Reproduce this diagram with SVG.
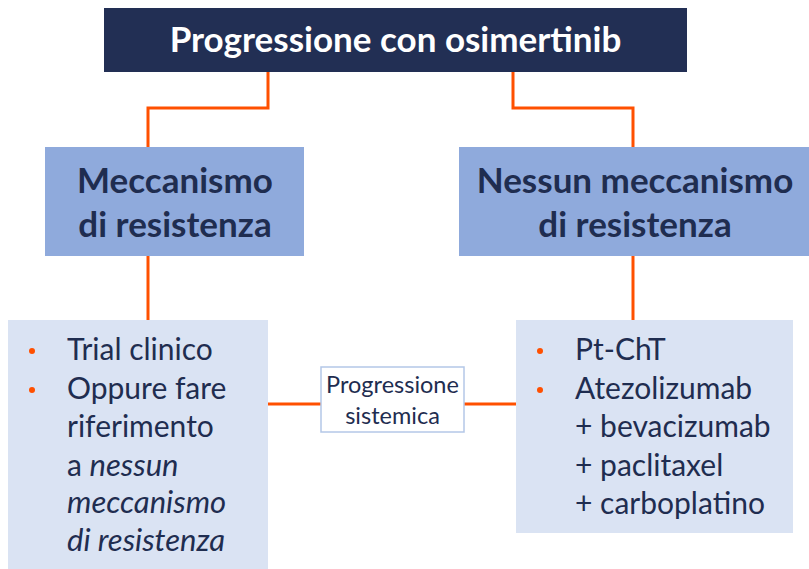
<svg xmlns="http://www.w3.org/2000/svg" width="809" height="569" viewBox="0 0 809 569">
<style>
.t{font-family:Lato,"Open Sans","Liberation Sans",sans-serif;}
.title{fill:#ffffff;font-weight:bold;font-size:35px;}
.mid{fill:#8FAADC;}
.midt{fill:#1F2D50;font-weight:bold;font-size:35px;}
.low{fill:#DAE3F3;}
.lt{fill:#1F2D50;font-size:30px;}
.it{font-style:italic;font-size:31px;}
.bul{fill:#FF5000;}
.con{fill:none;stroke:#FF5000;stroke-width:3;}
.sm{fill:#1F2D50;font-size:23.5px;}
</style>
<g id="connectors">
<polyline class="con" points="268,72 268,108 148,108 148,148"/>
<polyline class="con" points="513,72 513,108 633,108 633,148"/>
<line class="con" x1="148" y1="256" x2="148" y2="321"/>
<line class="con" x1="633" y1="256" x2="633" y2="321"/>
<line class="con" x1="268" y1="404" x2="322" y2="404"/>
<line class="con" x1="463" y1="404" x2="517" y2="404"/>
</g>
<g id="title">
<rect x="104" y="8" width="583" height="64" fill="#222F54"/>
<text class="t title" x="395.5" y="52" text-anchor="middle">Progressione con osimertinib</text>
</g>
<g id="meccanismo">
<rect class="mid" x="45" y="147" width="259" height="109"/>
<text class="t midt" x="175" y="193" text-anchor="middle">Meccanismo</text>
<text class="t midt" x="175" y="237" text-anchor="middle">di resistenza</text>
</g>
<g id="nessun">
<rect class="mid" x="459" y="147" width="350" height="109"/>
<text class="t midt" x="635" y="193" text-anchor="middle">Nessun meccanismo</text>
<text class="t midt" x="635" y="237" text-anchor="middle">di resistenza</text>
</g>
<g id="left-list">
<rect class="low" x="8" y="320" width="260" height="249"/>
<circle class="bul" cx="32" cy="351" r="3"/>
<circle class="bul" cx="32" cy="390" r="3"/>
<text class="t lt" x="67" y="360">Trial clinico</text>
<text class="t lt" x="67" y="399">Oppure fare</text>
<text class="t lt" x="67" y="437">riferimento</text>
<text class="t lt" x="67" y="476">a <tspan class="it">nessun</tspan></text>
<text class="t lt it" x="67" y="513">meccanismo</text>
<text class="t lt it" x="67" y="551">di resistenza</text>
</g>
<g id="right-list">
<rect class="low" x="516" y="320" width="277" height="213"/>
<circle class="bul" cx="540" cy="351" r="3"/>
<circle class="bul" cx="540" cy="390" r="3"/>
<text class="t lt" x="575" y="360">Pt-ChT</text>
<text class="t lt" x="575" y="399">Atezolizumab</text>
<text class="t lt" x="575" y="437">+ bevacizumab</text>
<text class="t lt" x="575" y="476">+ paclitaxel</text>
<text class="t lt" x="575" y="514">+ carboplatino</text>
</g>
<g id="progressione-sistemica">
<rect x="321" y="367" width="143" height="65" fill="#ffffff" stroke="#B4C7E7" stroke-width="1.5"/>
<text class="t sm" x="392.5" y="393" text-anchor="middle">Progressione</text>
<text class="t sm" x="392.5" y="424" text-anchor="middle">sistemica</text>
</g>
</svg>
